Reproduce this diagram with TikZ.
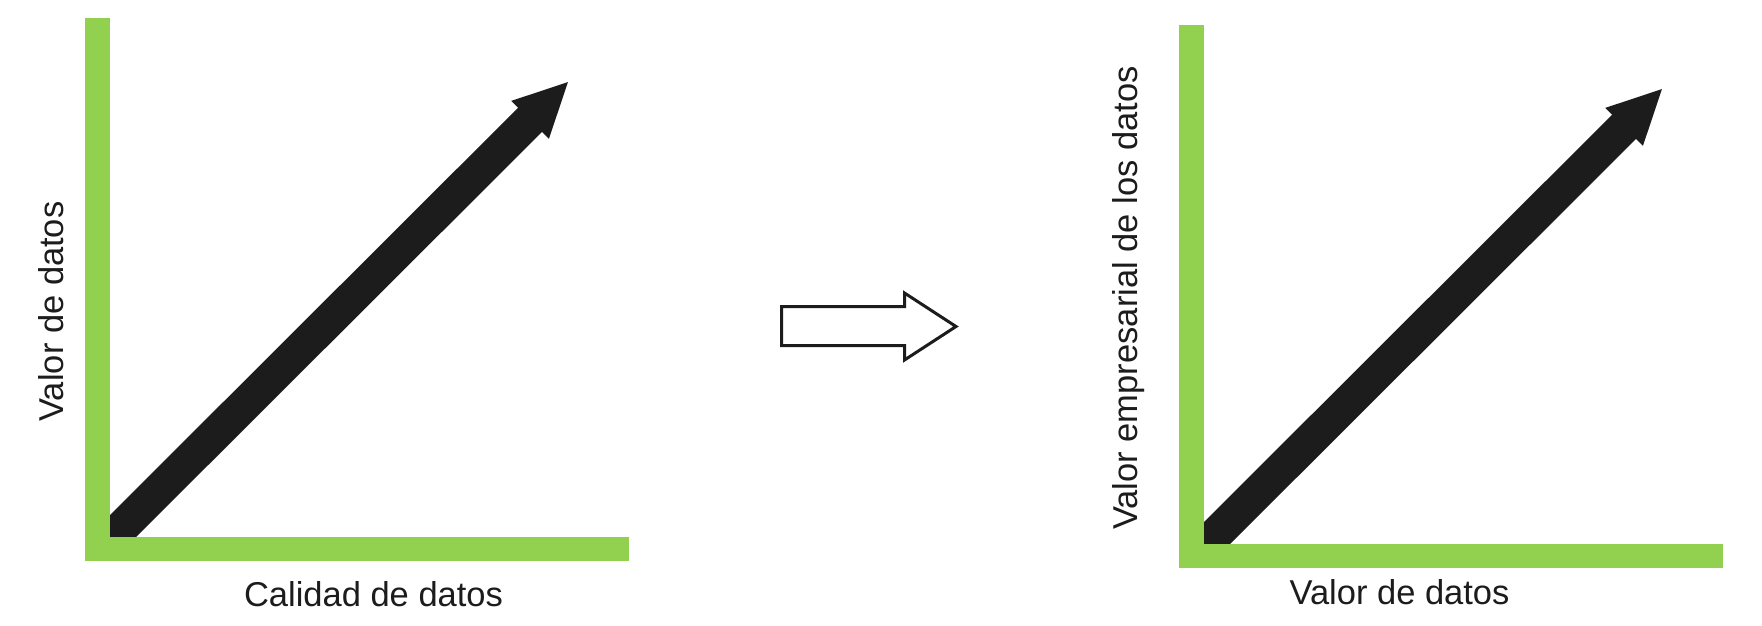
\documentclass[tikz,border=0pt]{standalone}
\usepackage{fontspec}
\setmainfont{Liberation Sans}
\usetikzlibrary{arrows.meta}
\definecolor{axisgreen}{RGB}{146,208,80}
\definecolor{inkblack}{RGB}{28,28,28}
\begin{document}
\begin{tikzpicture}[x=1pt,y=-1pt,
	axis/.style={fill=axisgreen},
	trend/.style={line width=34pt,draw=inkblack,-{Triangle[length=55pt,width=49pt]}},
	lbl/.style={inner sep=0pt,anchor=base,text=inkblack,font=\fontsize{34.5}{40}\selectfont}]
	\useasboundingbox (0,0) rectangle (1762,626);
	\coordinate (s1) at (102,547);
	\coordinate (t1) at (569,81);
	\draw[trend] (s1) -- (t1);
	\fill[axis] (85,18) rectangle (110,561);
	\fill[axis] (85,537) rectangle (629,561);
	\node[lbl,rotate=90] (ylab1) at (63,311.5) {Valor de datos};
	\node[lbl] (xlab1) at (373.5,606) {Calidad de datos};
	\draw[line width=3pt,draw=inkblack,fill=white,line join=miter] (781.5,306.5) -- (904.5,306.5) -- (904.5,293) -- (956,326.5) -- (904.5,360) -- (904.5,345.5) -- (781.5,345.5) -- cycle;
	\coordinate (s2) at (1196,554);
	\coordinate (t2) at (1663,88);
	\draw[trend] (s2) -- (t2);
	\fill[axis] (1179,25) rectangle (1204,568);
	\fill[axis] (1179,544) rectangle (1723,568);
	\node[lbl,rotate=90] (ylab2) at (1137,298) {Valor empresarial de los datos};
	\node[lbl] (xlab2) at (1399.5,604) {Valor de datos};
\end{tikzpicture}
\end{document}
